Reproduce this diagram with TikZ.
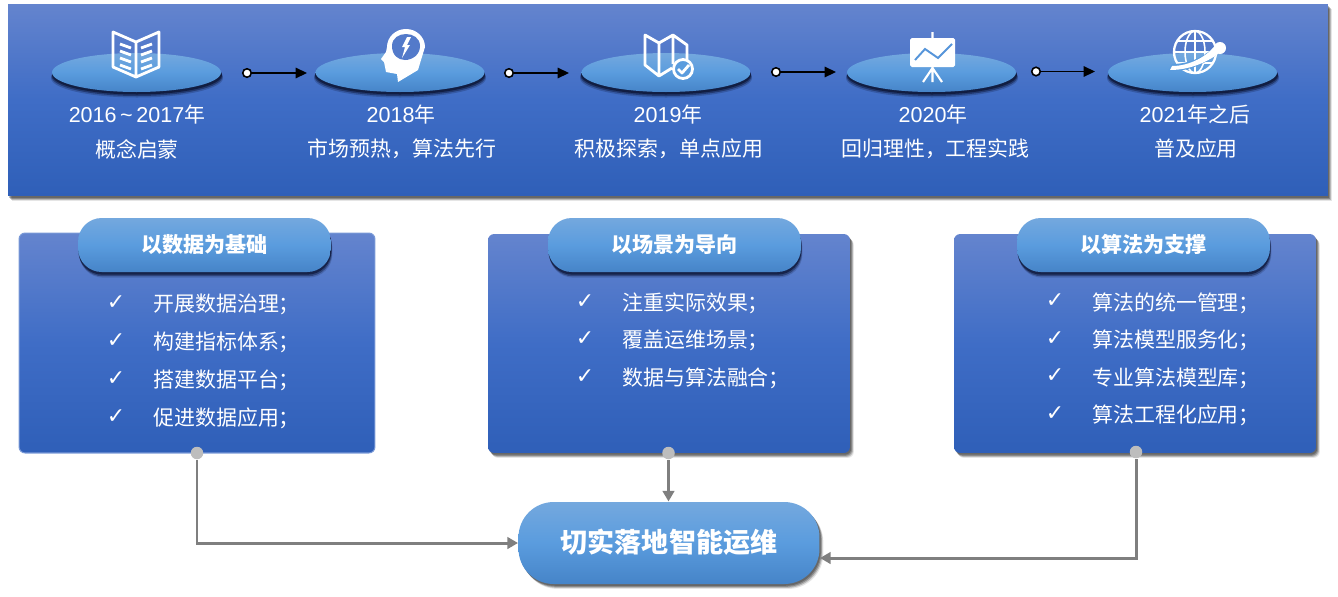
\documentclass[tikz,border=0pt]{standalone}
\usepackage{fontspec}
\setmainfont{Noto Sans CJK SC}
\newfontfamily\latinfont[Scale=1.03]{Liberation Sans}
\newfontfamily\tickfont{DejaVu Sans}
\usetikzlibrary{arrows.meta,shapes.geometric,shadows}
\definecolor{bandtop}{HTML}{6484CE}
\definecolor{bandmid}{HTML}{3F6DC6}
\definecolor{bandlow}{HTML}{2F5FB8}
\definecolor{pilltop}{HTML}{74A8DE}
\definecolor{pillmid}{HTML}{5A9CDE}
\definecolor{pilllow}{HTML}{4684C8}
\definecolor{linegray}{HTML}{7F7F7F}
\definecolor{dotgray}{HTML}{BDBDBD}
\definecolor{navy}{HTML}{101B3E}

\begin{document}
\begin{tikzpicture}[x=0.02cm,y=-0.02cm,line width=0.6pt,
    softgray/.style={
      general shadow={shadow xshift=2.2pt,shadow yshift=-2.8pt,fill=black,opacity=.1},
      general shadow={shadow xshift=1.7pt,shadow yshift=-2.2pt,fill=black,opacity=.2},
      general shadow={shadow xshift=1.2pt,shadow yshift=-1.6pt,fill=black,opacity=.25},
      general shadow={shadow xshift=0.7pt,shadow yshift=-1pt,fill=black,opacity=.25}},
    softnavy/.style={
      general shadow={shadow xshift=0.8pt,shadow yshift=-3.2pt,fill=navy,opacity=.2},
      general shadow={shadow xshift=0.5pt,shadow yshift=-2.4pt,fill=navy,opacity=.45},
      general shadow={shadow xshift=0.2pt,shadow yshift=-1.5pt,fill=navy,opacity=.8}},
    bluefill/.style={top color=bandtop,bottom color=bandlow,middle color=bandmid},
    lightfill/.style={top color=pilltop,bottom color=pilllow,middle color=pillmid},
    bannerbox/.style={rectangle,bluefill,softgray,minimum width=26.4cm,minimum height=3.84cm,inner sep=0pt},
    cardbox/.style={rectangle,rounded corners=3.5pt,bluefill,minimum width=7.24cm,minimum height=4.38cm,inner sep=0pt},
    disc/.style={ellipse,lightfill,minimum width=3.38cm,minimum height=0.78cm,inner sep=0pt},
    titlepill/.style={rectangle,rounded corners=13.5pt,lightfill,softnavy,minimum width=5.06cm,minimum height=1.08cm,inner sep=0pt,
      text=white,font=\fontsize{12}{14}\selectfont\bfseries},
    hubpill/.style={rectangle,rounded corners=20pt,lightfill,softgray,minimum width=6.02cm,minimum height=1.64cm,inner sep=0pt,
      text=white,font=\fontsize{15.4}{18}\selectfont\bfseries},
    labeltext/.style={text=white,inner sep=0pt,font=\fontsize{11.9}{14}\selectfont},
    itemtext/.style={labeltext,anchor=west},
    ticktext/.style={text=white,inner sep=0pt,font=\tickfont\fontsize{12.5}{14}\selectfont},
    startdot/.style={circle,draw=black,fill=white,line width=0.9pt,minimum size=0.17cm,inner sep=0pt},
    graydot/.style={circle,fill=dotgray,minimum size=0.25cm,inner sep=0pt},
    steparrow/.style={black,line width=0.9pt,-{Triangle[length=6.5pt,width=6pt]}},
    grayarrow/.style={linegray,line width=1.7pt,-{Triangle[length=6pt,width=6.5pt]}},
    iconline/.style={white,line width=1.2pt,line join=round}]
  \useasboundingbox (0,0) rectangle (1338,596);

  \node[bannerbox] (banner) at (668,100) {};

  \foreach \cx in {137,400,666,932,1193} {
    \fill[navy,opacity=.25] (\cx,78) ellipse (86 and 19.5);
    \fill[navy,opacity=.5] (\cx,76.5) ellipse (85.5 and 19.5);
    \fill[navy,opacity=.9] (\cx,75) ellipse (85 and 19.5);
  }
  \node[disc] (discA) at (136.5,72.5) {};
  \node[disc] (discB) at (400,72.5) {};
  \node[disc] (discC) at (666,72.5) {};
  \node[disc] (discD) at (931.5,72.5) {};
  \node[disc] (discE) at (1192.5,72.5) {};

  \node[startdot] (dotA) at (247,73) {};
  \node[startdot] (dotB) at (509,73) {};
  \node[startdot] (dotC) at (776,72) {};
  \node[startdot] (dotD) at (1036,71.5) {};
  \coordinate (tipA) at (307,73);
  \coordinate (tipB) at (569,73);
  \coordinate (tipC) at (836,72);
  \coordinate (tipD) at (1095,71.5);
  \draw[steparrow] (dotA) -- (tipA);
  \draw[steparrow] (dotB) -- (tipB);
  \draw[steparrow] (dotC) -- (tipC);
  \draw[steparrow] (dotD) -- (tipD);

  \node[labeltext] (yearA) at (137,115) {{\latinfont 2016\,\textasciitilde\,2017}年};
  \node[labeltext] (yearB) at (401,115) {{\latinfont 2018}年};
  \node[labeltext] (yearC) at (668,115) {{\latinfont 2019}年};
  \node[labeltext] (yearD) at (933,115) {{\latinfont 2020}年};
  \node[labeltext] (yearE) at (1195,115) {{\latinfont 2021}年之后};
  \node[labeltext] (stageA) at (137,149) {概念启蒙};
  \node[labeltext] (stageB) at (402,149) {市场预热，算法先行};
  \node[labeltext] (stageC) at (669,149) {积极探索，单点应用};
  \node[labeltext] (stageD) at (935.5,149) {回归理性，工程实践};
  \node[labeltext] (stageE) at (1196,149) {普及应用};

  % book
  \draw[iconline,line width=1.6pt] (113,32) -- (136,42) -- (159,32) -- (159,67) -- (136,77) -- (113,67) -- cycle (136,42) -- (136,77);
  \draw[iconline,line width=1.6pt] (120,44) -- (131,48) (120,51) -- (131,55) (120,58) -- (131,62) (120,65) -- (131,69);
  \draw[iconline,line width=1.6pt] (152,44) -- (141,48) (152,51) -- (141,55) (152,58) -- (141,62) (152,65) -- (141,69);
  % head
  \fill[white] (387,47) arc (180:360:19 and 18) -- (421,60) -- (418,70) -- (398,82) -- (397,74) -- (386,72) -- (384,62) -- (381,59) -- (386,52) -- cycle;
  \fill[bandtop!55!bandmid] (392,46) .. controls (392,30) and (420,30) .. (420,46) .. controls (420,55) and (412,60) .. (405,60) .. controls (398,60) and (392,55) .. (392,46) -- cycle;
  \fill[white] (407,37) -- (402,47) -- (405,47) -- (402,58) -- (410,45) -- (407,45) -- (411,37) -- cycle;
  % map
  \draw[iconline,line width=1.6pt] (672,68) -- (659,76) -- (645,65) -- (645,35) -- (659,43) -- (673,35) -- (687,45) -- (687,60) (659,43) -- (659,76) (673,35) -- (673,64);
  \fill[pillmid] (683,69) circle (10);
  \draw[iconline,line width=1.6pt] (683,69) circle (9.5);
  \draw[iconline,line width=1.6pt] (678,69) -- (682,73) -- (689,65);
  % board
  \draw[iconline] (932.5,32) -- (932.5,82) (932.5,68) -- (923,82) (932.5,68) -- (942,82);
  \fill[white,rounded corners=1pt] (910,38) rectangle (955,67);
  \draw[pillmid!85!bandmid,line width=1.1pt] (915,60) -- (925,49) -- (938,58) -- (952,44);
  % globe
  \begin{scope}[iconline,line width=0.9pt]
    \draw[line width=1.3pt] (1195,52) circle (21);
    \draw (1195,52) ellipse (10 and 21) (1195,31) -- (1195,73) (1177,41) -- (1213,41) (1174,52) -- (1216,52) (1177,63) -- (1213,63);
  \end{scope}
  \fill[pillmid] (1168,71) .. controls (1190,72) and (1210,62) .. (1224,48) -- (1218,42) .. controls (1208,56) and (1190,64) .. (1172,64) -- cycle;
  \fill[white] (1170,70) .. controls (1192,70) and (1212,60) .. (1224,49) -- (1216,44) .. controls (1208,56) and (1190,66) .. (1172,66) -- cycle;
  \fill[white] (1220,48) circle (6);

  \node[cardbox,draw=bandmid!70!white,minimum width=7.12cm,minimum height=4.4cm] (cardA) at (197,343) {};
  \node[cardbox,softgray] (cardB) at (669,343.5) {};
  \node[cardbox,softgray] (cardC) at (1135,343.5) {};

  \node[titlepill] (titleA) at (204.5,245) {\raisebox{2.2pt}{以数据为基础}};
  \node[titlepill] (titleB) at (674.5,245) {\raisebox{2.2pt}{以场景为导向}};
  \node[titlepill] (titleC) at (1143.5,245) {\raisebox{2.2pt}{以算法为支撑}};

  \node[ticktext] (tickA1) at (116,303) {✓};
  \node[ticktext] (tickA2) at (116,341) {✓};
  \node[ticktext] (tickA3) at (116,379) {✓};
  \node[ticktext] (tickA4) at (116,417) {✓};
  \node[itemtext] (itemA1) at (153,304) {开展数据治理；};
  \node[itemtext] (itemA2) at (153,342) {构建指标体系；};
  \node[itemtext] (itemA3) at (153,380) {搭建数据平台；};
  \node[itemtext] (itemA4) at (153,418) {促进数据应用；};

  \node[ticktext] (tickB1) at (585,302) {✓};
  \node[ticktext] (tickB2) at (585,339) {✓};
  \node[ticktext] (tickB3) at (585,377) {✓};
  \node[itemtext] (itemB1) at (622,303) {注重实际效果；};
  \node[itemtext] (itemB2) at (622,340) {覆盖运维场景；};
  \node[itemtext] (itemB3) at (622,378) {数据与算法融合；};

  \node[ticktext] (tickC1) at (1055,301) {✓};
  \node[ticktext] (tickC2) at (1055,339) {✓};
  \node[ticktext] (tickC3) at (1055,376) {✓};
  \node[ticktext] (tickC4) at (1055,414) {✓};
  \node[itemtext] (itemC1) at (1092,303) {算法的统一管理；};
  \node[itemtext] (itemC2) at (1092,340) {算法模型服务化；};
  \node[itemtext] (itemC3) at (1092,378) {专业算法模型库；};
  \node[itemtext] (itemC4) at (1092,415) {算法工程化应用；};

  \node[hubpill] (hub) at (669,543) {\raisebox{2.2pt}{切实落地智能运维}};
  \node[graydot] (dropA) at (197,453) {};
  \node[graydot] (dropB) at (668.5,453) {};
  \node[graydot] (dropC) at (1136,452) {};
  \coordinate (hubright) at (820,558);
  \draw[grayarrow] (dropA) |- (hub.west);
  \draw[grayarrow] (dropB) -- (hub.north -| dropB);
  \draw[grayarrow] (dropC) |- (hubright);
\end{tikzpicture}
\end{document}
